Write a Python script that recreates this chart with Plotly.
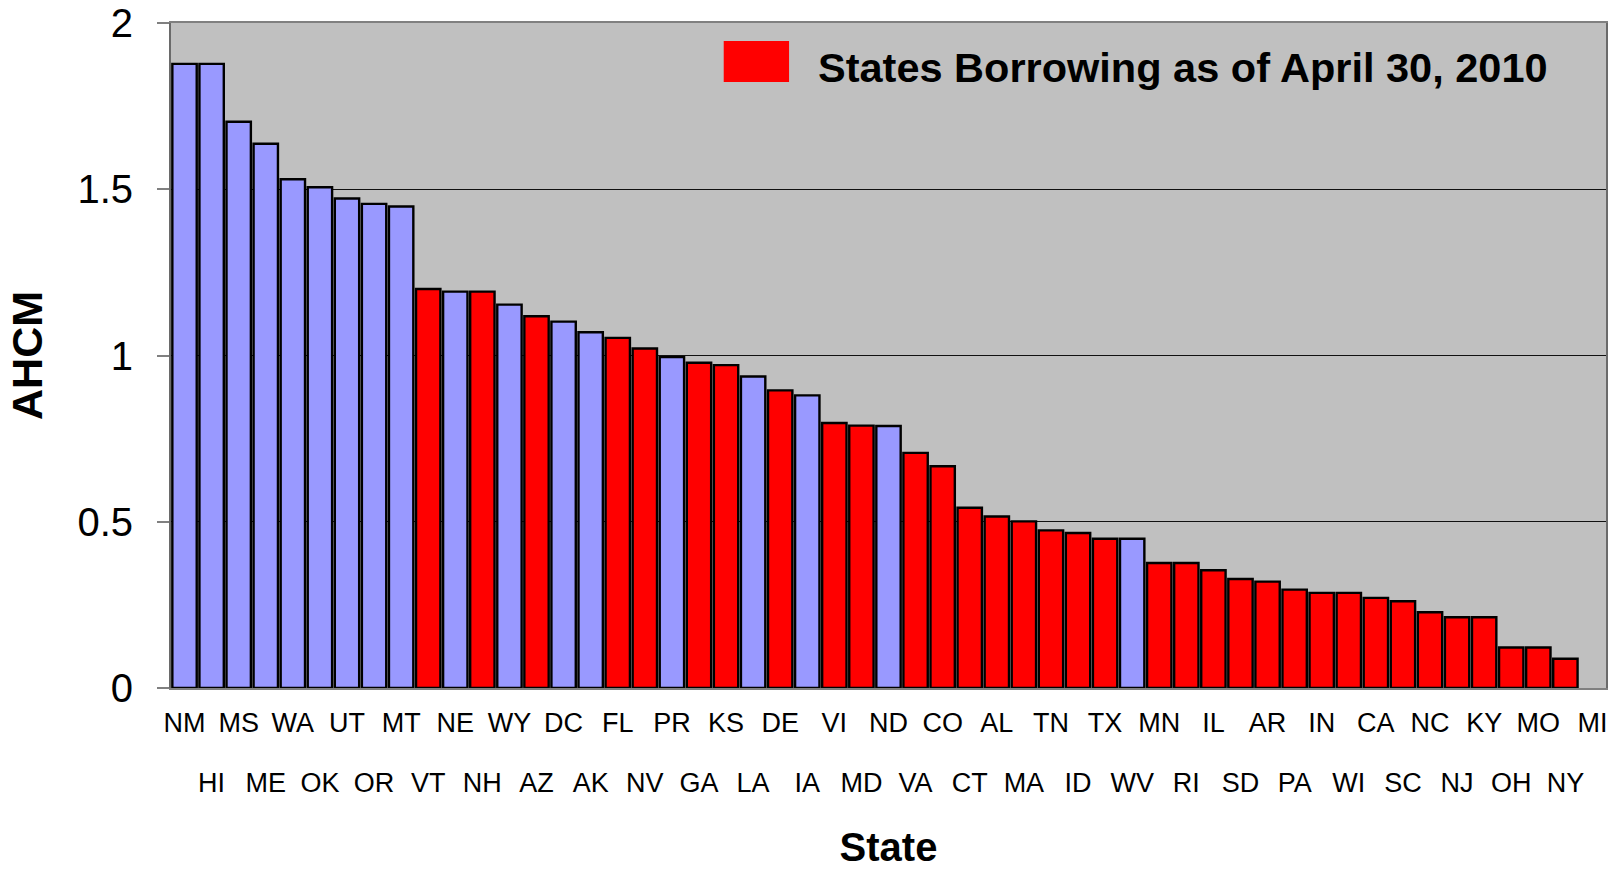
import plotly.graph_objects as go

# State abbreviations in ranked order
states = ["NM", "HI", "MS", "ME", "WA", "OK", "UT", "OR", "MT", "VT", "NE", "NH",
          "WY", "AZ", "DC", "AK", "FL", "NV", "PR", "GA", "KS", "LA", "DE", "IA",
          "VI", "MD", "ND", "VA", "CO", "CT", "AL", "MA", "TN", "ID", "TX", "WV",
          "MN", "RI", "IL", "SD", "AR", "PA", "IN", "WI", "CA", "SC", "NC", "NJ",
          "KY", "OH", "MO", "NY", "MI"]

# Average high cost multiple per state
ahcm = [1.877, 1.877, 1.703, 1.637, 1.530, 1.506, 1.472, 1.456, 1.448, 1.200,
        1.192, 1.192, 1.153, 1.118, 1.102, 1.070, 1.053, 1.021, 0.995, 0.978,
        0.971, 0.937, 0.895, 0.880, 0.797, 0.789, 0.788, 0.707, 0.667, 0.542,
        0.516, 0.501, 0.474, 0.466, 0.449, 0.449, 0.376, 0.376, 0.354, 0.328,
        0.320, 0.296, 0.286, 0.286, 0.271, 0.261, 0.228, 0.213, 0.213, 0.122,
        0.122, 0.088, None]

# 1 = state borrowing as of April 30, 2010
borrowing = [0, 0, 0, 0, 0, 0, 0, 0, 0, 1, 0, 1, 0, 1, 0, 0, 1, 1, 0, 1, 1, 0,
             1, 0, 1, 1, 0, 1, 1, 1, 1, 1, 1, 1, 1, 0, 1, 1, 1, 1, 1, 1, 1, 1,
             1, 1, 1, 1, 1, 1, 1, 1, 1]

y_ticks = [0, 0.5, 1, 1.5, 2]
y_tick_text = ["0", "0.5", "1", "1.5", "2"]

legend_label = "States Borrowing as of April 30, 2010"

BLUE = "#9999FF"
RED = "#FF0000"
BG = "#C0C0C0"

W, H = 1622, 869
ML, MR, MT, MB = 170.5, 15.5, 23.3, 181
PW, PH = W - ML - MR, H - MT - MB

idx = list(range(len(states)))
red_x = [i for i in idx if borrowing[i] == 1 and ahcm[i] is not None]
blue_x = [i for i in idx if borrowing[i] == 0 and ahcm[i] is not None]

bar_line = dict(color="#000000", width=2.4)

fig = go.Figure()
fig.add_trace(go.Bar(
    x=red_x, y=[ahcm[i] for i in red_x], width=0.9,
    marker=dict(color=RED, line=bar_line),
    name=legend_label, showlegend=False,
    hovertext=[states[i] for i in red_x],
))
fig.add_trace(go.Bar(
    x=blue_x, y=[ahcm[i] for i in blue_x], width=0.9,
    marker=dict(color=BLUE, line=bar_line),
    name="Not borrowing", showlegend=False, xaxis="x2",
    hovertext=[states[i] for i in blue_x],
))

x_range = [-0.5, len(states) - 0.5]
even = [i for i in idx if i % 2 == 0]
odd = [i for i in idx if i % 2 == 1]
tick_font = dict(family="Liberation Sans Narrow, Arial Narrow, Liberation Sans, Arial",
                 size=27, color="#000000")


def px_x(p):
    return (p - ML) / PW


def px_y(p):
    return (H - MB - p) / PH


fig.update_layout(
    width=W, height=H,
    margin=dict(l=ML, r=MR, t=MT, b=MB, autoexpand=False),
    paper_bgcolor="#FFFFFF",
    plot_bgcolor=BG,
    barmode="overlay",
    showlegend=False,
    xaxis=dict(
        range=x_range, tickmode="array", tickvals=even,
        ticktext=[states[i] for i in even], tickangle=0,
        ticks="", tickfont=tick_font, ticklabelstandoff=10,
        showgrid=False, zeroline=False,
        showline=True, linecolor="#808080", linewidth=2, mirror=True,
        automargin=False, fixedrange=True,
    ),
    xaxis2=dict(
        overlaying="x", anchor="y", side="bottom",
        range=x_range, tickmode="array", tickvals=odd,
        ticktext=[states[i] for i in odd], tickangle=0,
        ticks="", tickfont=tick_font, ticklabelstandoff=76,
        showgrid=False, zeroline=False, showline=False,
        automargin=False, fixedrange=True,
        title=dict(text="<b>State</b>", standoff=44,
                   font=dict(family="Liberation Sans, Arial", size=40, color="#000000")),
    ),
    yaxis=dict(
        range=[0, 2], tickmode="array", tickvals=y_ticks, ticktext=y_tick_text,
        ticks="outside", ticklen=12, tickcolor="#808080", tickwidth=2,
        ticklabelstandoff=16,
        tickfont=dict(family="Liberation Sans, Arial", size=40, color="#000000"),
        showgrid=True, gridcolor="#111111", gridwidth=1,
        zeroline=False,
        showline=True, linecolor="#6a6a6a", linewidth=2, mirror=True,
        automargin=False, fixedrange=True,
        title=dict(text="<b>AHCM</b>", standoff=21,
                   font=dict(family="Liberation Sans, Arial", size=43, color="#000000")),
    ),
    shapes=[dict(
        type="rect", xref="paper", yref="paper",
        x0=px_x(723.6), x1=px_x(789.0), y0=px_y(82.3), y1=px_y(41.3),
        fillcolor=RED, line=dict(width=0),
    )],
    annotations=[dict(
        text="<b>" + legend_label + "</b>", xref="paper", yref="paper",
        x=px_x(816), y=px_y(68), xanchor="left", yanchor="middle",
        showarrow=False,
        font=dict(family="Liberation Sans, Arial", size=41.5, color="#000000"),
    )],
)

fig.write_html("out.html")
